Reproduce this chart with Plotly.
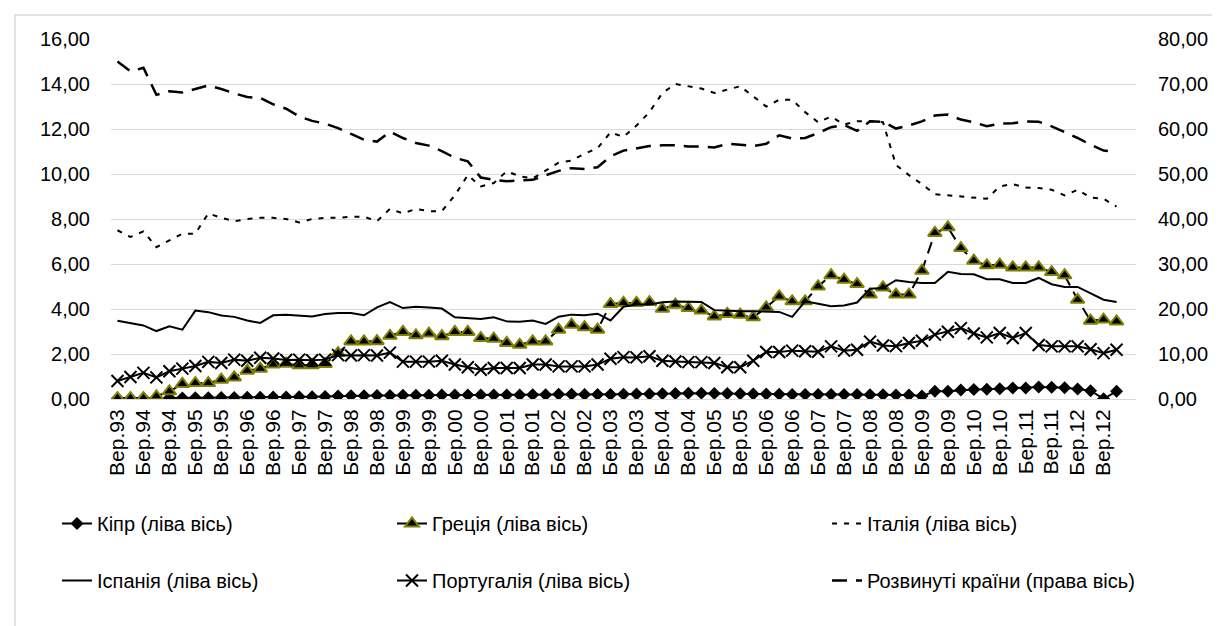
import plotly.graph_objects as go

# ---------------- categories (quarterly, Sep-1993 .. Dec-2012) ----------------
months = ["Бер", "Чер", "Вер", "Гру"]
quarters = []
for yr in range(1993, 2013):
    for m in months:
        quarters.append(f"{m}.{yr % 100:02d}")
quarters = quarters[2:80]          # Вер.93 ... Гру.12  (78 quarters)
tick_labels = quarters[::2]        # Вер.93, Бер.94, ... Вер.12

# ---------------- series values ----------------
cyprus = [0.03, 0.03, 0.03, 0.04, 0.05, 0.05, 0.06, 0.06, 0.07, 0.07,
          0.08, 0.08, 0.09, 0.09, 0.10, 0.10, 0.11, 0.13, 0.15, 0.15,
          0.16, 0.16, 0.17, 0.17, 0.17, 0.18, 0.18, 0.18, 0.18, 0.18,
          0.18, 0.18, 0.19, 0.19, 0.21, 0.21, 0.20, 0.20, 0.20, 0.21,
          0.22, 0.22, 0.23, 0.24, 0.26, 0.26, 0.25, 0.24, 0.23, 0.22,
          0.22, 0.21, 0.20, 0.20, 0.20, 0.20, 0.20, 0.20, 0.19, 0.19,
          0.18, 0.18, 0.13, 0.34, 0.35, 0.40, 0.42, 0.43, 0.46, 0.49,
          0.49, 0.53, 0.52, 0.50, 0.44, 0.37, 0.01, 0.34]

greece = [0.04, 0.04, 0.04, 0.12, 0.34, 0.67, 0.71, 0.71, 0.86, 0.96,
          1.26, 1.35, 1.53, 1.57, 1.50, 1.50, 1.56, 2.04, 2.56, 2.56,
          2.57, 2.81, 2.98, 2.83, 2.91, 2.79, 2.98, 2.98, 2.71, 2.68,
          2.49, 2.41, 2.56, 2.56, 3.08, 3.30, 3.19, 3.08, 4.22, 4.27,
          4.27, 4.31, 4.01, 4.19, 4.04, 3.93, 3.67, 3.78, 3.75, 3.63,
          4.07, 4.56, 4.34, 4.34, 5.00, 5.50, 5.30, 5.11, 4.64, 4.96,
          4.64, 4.64, 5.70, 7.38, 7.63, 6.71, 6.15, 5.94, 5.97, 5.85,
          5.85, 5.85, 5.64, 5.50, 4.41, 3.48, 3.53, 3.45]

italy = [7.50, 7.20, 7.45, 6.75, 7.05, 7.35, 7.35, 8.25, 8.05, 7.90,
         8.00, 8.05, 8.05, 8.00, 7.85, 8.00, 8.05, 8.05, 8.10, 8.10,
         7.90, 8.45, 8.25, 8.45, 8.35, 8.35, 9.05, 9.95, 9.45, 9.60,
         10.12, 9.90, 9.80, 10.15, 10.50, 10.60, 10.90, 11.15, 11.85, 11.65,
         12.15, 12.75, 13.60, 14.00, 13.90, 13.80, 13.60, 13.75, 13.90, 13.45,
         13.00, 13.30, 13.30, 12.75, 12.30, 12.55, 12.20, 12.35, 12.35, 12.30,
         10.40, 9.95, 9.55, 9.10, 9.05, 9.00, 8.95, 8.90, 9.45, 9.55,
         9.40, 9.38, 9.30, 9.05, 9.30, 8.95, 8.90, 8.55]

spain = [3.48, 3.38, 3.27, 3.02, 3.23, 3.08, 3.93, 3.86, 3.71, 3.65,
         3.49, 3.38, 3.72, 3.75, 3.72, 3.67, 3.78, 3.82, 3.82, 3.72,
         4.07, 4.31, 4.04, 4.10, 4.07, 4.02, 3.63, 3.60, 3.56, 3.63,
         3.45, 3.43, 3.49, 3.34, 3.66, 3.75, 3.72, 3.79, 3.49, 4.10,
         4.20, 4.20, 4.30, 4.33, 4.31, 4.31, 3.95, 3.91, 3.90, 3.90,
         3.89, 3.87, 3.65, 4.34, 4.23, 4.12, 4.16, 4.29, 4.90, 4.93,
         5.28, 5.20, 5.16, 5.16, 5.65, 5.56, 5.54, 5.32, 5.32, 5.16,
         5.16, 5.38, 5.10, 4.98, 4.98, 4.71, 4.41, 4.31]

portugal = [0.80, 0.98, 1.16, 0.96, 1.23, 1.35, 1.47, 1.65, 1.60, 1.75,
            1.70, 1.83, 1.80, 1.73, 1.75, 1.72, 1.75, 1.95, 1.93, 1.95,
            1.93, 2.06, 1.66, 1.66, 1.66, 1.70, 1.53, 1.41, 1.30, 1.38,
            1.38, 1.38, 1.53, 1.53, 1.45, 1.45, 1.45, 1.53, 1.79, 1.86,
            1.85, 1.90, 1.70, 1.67, 1.64, 1.64, 1.60, 1.41, 1.41, 1.70,
            2.09, 2.09, 2.15, 2.12, 2.10, 2.34, 2.15, 2.19, 2.55, 2.38,
            2.35, 2.49, 2.59, 2.86, 2.99, 3.15, 2.91, 2.74, 2.93, 2.71,
            2.93, 2.40, 2.34, 2.34, 2.34, 2.21, 2.04, 2.19]

developed = [75.0, 72.8, 73.6, 67.6, 68.4, 68.1, 68.9, 69.7, 68.9, 67.9,
             67.1, 66.9, 65.5, 64.5, 62.8, 61.8, 61.2, 60.2, 58.9, 57.6,
             57.2, 59.4, 58.0, 56.9, 56.3, 55.1, 53.6, 52.8, 49.2, 48.7,
             48.4, 48.5, 48.7, 49.7, 50.7, 51.3, 51.1, 51.5, 53.9, 55.2,
             55.7, 56.2, 56.4, 56.4, 56.1, 56.1, 55.9, 56.7, 56.5, 56.2,
             56.7, 58.6, 57.9, 58.0, 59.1, 60.4, 60.9, 59.6, 61.7, 61.6,
             60.1, 60.8, 61.7, 63.0, 63.2, 62.1, 61.5, 60.6, 61.2, 61.3,
             61.7, 61.6, 60.6, 59.3, 58.0, 56.5, 55.2, 54.9]

names = ["Кіпр (ліва вісь)", "Греція (ліва вісь)", "Італія (ліва вісь)",
         "Іспанія (ліва вісь)", "Португалія (ліва вісь)", "Розвинуті країни (права вісь)"]

FONT = "Liberation Sans, Arial, sans-serif"
FS = 20
CLEAR = "rgba(0,0,0,0)"

fig = go.Figure()

fig.add_trace(go.Scatter(
    x=quarters, y=cyprus, name=names[0], mode="lines+markers",
    line=dict(color="black", width=2),
    marker=dict(symbol="diamond", size=10, color="black"),
    legend="legend", legendgroup="g1"))

fig.add_trace(go.Scatter(
    x=quarters, y=greece, name=names[1], mode="lines+markers",
    line=dict(color="black", width=2, dash="12px,7px"),
    marker=dict(symbol="triangle-up", size=12, color="black",
                line=dict(color="#808000", width=2)),
    legend="legend2", legendgroup="g2"))

fig.add_trace(go.Scatter(
    x=quarters, y=italy, name=names[2], mode="lines",
    line=dict(color="black", width=2, dash="5px,7px"),
    legend="legend3", legendgroup="g3"))

fig.add_trace(go.Scatter(
    x=quarters, y=spain, name=names[3], mode="lines",
    line=dict(color="black", width=2),
    legend="legend", legendgroup="g4"))

fig.add_trace(go.Scatter(
    x=quarters, y=portugal, name=names[4], mode="lines+markers",
    line=dict(color="black", width=2),
    marker=dict(symbol="x-thin", size=12, color="black",
                line=dict(color="black", width=2)),
    legend="legend2", legendgroup="g5"))

fig.add_trace(go.Scatter(
    x=quarters, y=developed, name=names[5], mode="lines", yaxis="y2",
    line=dict(color="black", width=2.5, dash="15px,9px"),
    legend="legend3", legendgroup="g6"))

# plot area in pixels: x 103..1128, y 31..391
L, R, T, B = 103, 1128, 31, 391
W, H = R - L, B - T


def px(xp):
    return (xp - L) / W


def py(yp):
    return (B - yp) / H


legend_common = dict(
    orientation="v", xanchor="left", yanchor="top",
    font=dict(family=FONT, size=FS, color="black"),
    bgcolor=CLEAR, borderwidth=0,
    traceorder="grouped", tracegroupgap=28,
)

fig.update_layout(
    width=1220, height=626, autosize=False,
    margin=dict(l=L, r=1220 - R, t=T, b=626 - B, autoexpand=False),
    paper_bgcolor="white", plot_bgcolor="white",
    separators=", ",
    font=dict(family=FONT, size=FS, color="black"),
    showlegend=True,
    xaxis=dict(
        type="category", range=[-0.5, 78.5],
        tickmode="array", tickvals=tick_labels, ticktext=tick_labels,
        tickangle=-90, showgrid=False, showline=False, zeroline=False,
        ticks="outside", ticklen=1, tickcolor=CLEAR,
        tickfont=dict(family=FONT, size=21, color="black"),
    ),
    yaxis=dict(
        range=[0, 16], dtick=2, tick0=0, tickformat=".2f",
        showgrid=True, gridcolor="#d9d9d9", gridwidth=1,
        zeroline=True, zerolinecolor="#d9d9d9", zerolinewidth=1,
        showline=False, ticks="outside", ticklen=16, tickcolor=CLEAR,
        tickfont=dict(family=FONT, size=FS, color="black"),
    ),
    yaxis2=dict(
        range=[0, 80], dtick=10, tick0=0, tickformat=".2f",
        overlaying="y", side="right", showgrid=False, zeroline=False,
        showline=False, ticks="outside", ticklen=17, tickcolor=CLEAR,
        tickfont=dict(family=FONT, size=FS, color="black"),
    ),
    legend=dict(x=px(49), y=py(496), **legend_common),
    legend2=dict(x=px(384), y=py(496), **legend_common),
    legend3=dict(x=px(819), y=py(496), **legend_common),
    shapes=[dict(type="rect", xref="paper", yref="paper",
                 x0=px(7), x1=px(1230), y0=py(636), y1=py(7),
                 line=dict(color="#d9d9d9", width=1.5), layer="below")],
)

fig.write_html("out.html")
